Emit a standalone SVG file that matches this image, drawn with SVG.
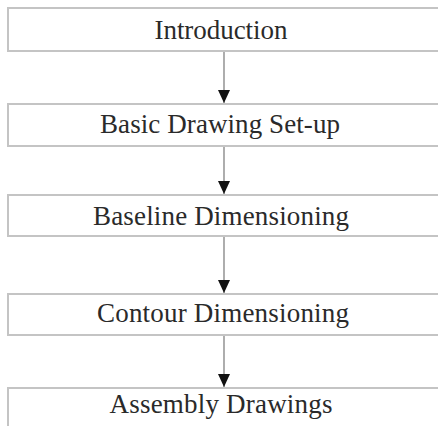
<svg xmlns="http://www.w3.org/2000/svg" width="438" height="426" viewBox="0 0 438 426">
<defs>
<style>
.box{fill:#fff;stroke:#c4c4c4;stroke-width:2}
.lbl{font-family:'Liberation Serif','Times New Roman',Times,serif;font-size:27px;fill:#2a2a2a;text-anchor:middle}
.conn{stroke:#777;stroke-width:1.2;fill:none}
</style>
<marker id="ah" viewBox="0 0 13 12" refX="13" refY="6" markerWidth="13" markerHeight="12" markerUnits="userSpaceOnUse" orient="auto">
<path d="M0,0 L13,6 L0,12 Z" fill="#111"/>
</marker>
</defs>
<rect width="438" height="426" fill="#fff"/>
<g id="connectors">
<line class="conn" x1="224" y1="51" x2="224" y2="103" marker-end="url(#ah)"/>
<line class="conn" x1="224" y1="146" x2="224" y2="194" marker-end="url(#ah)"/>
<line class="conn" x1="224" y1="236" x2="224" y2="293" marker-end="url(#ah)"/>
<line class="conn" x1="224" y1="335" x2="224" y2="387" marker-end="url(#ah)"/>
</g>
<g id="n1"><rect class="box" x="8" y="8" width="460" height="43"/><text class="lbl" x="221" y="39" textLength="133" lengthAdjust="spacing">Introduction</text></g>
<g id="n2"><rect class="box" x="8" y="104" width="460" height="42"/><text class="lbl" x="220" y="133" textLength="240" lengthAdjust="spacing">Basic Drawing Set-up</text></g>
<g id="n3"><rect class="box" x="8" y="195" width="460" height="41"/><text class="lbl" x="221" y="225" textLength="256" lengthAdjust="spacing">Baseline Dimensioning</text></g>
<g id="n4"><rect class="box" x="8" y="294" width="460" height="41"/><text class="lbl" x="223" y="322" textLength="252" lengthAdjust="spacing">Contour Dimensioning</text></g>
<g id="n5"><rect class="box" x="8" y="388" width="460" height="60"/><text class="lbl" x="221" y="413" textLength="223" lengthAdjust="spacing">Assembly Drawings</text></g>
</svg>
